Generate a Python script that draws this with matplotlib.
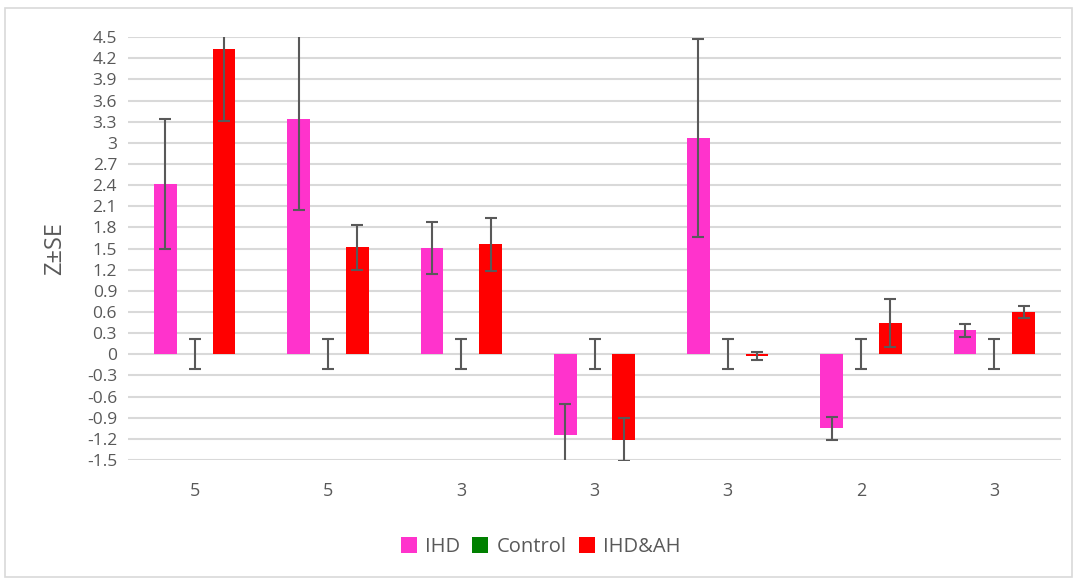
import numpy as np
import matplotlib
matplotlib.use("Agg")
from matplotlib import pyplot as plt
from matplotlib.patches import Rectangle

plt.rcParams['font.family'] = ['Open Sans', 'DejaVu Sans']

# group labels (n per group)
labels = ['5', '5', '3', '3', '3', '2', '3']

ihd = [2.42, 3.34, 1.51, -1.15, 3.07, -1.05, 0.34]
ihd_err = [0.92, 1.30, 0.37, 0.45, 1.40, 0.16, 0.095]

control = [0, 0, 0, 0, 0, 0, 0]
control_err = [0.21, 0.21, 0.21, 0.21, 0.21, 0.21, 0.21]

ihd_ah = [4.33, 1.52, 1.56, -1.21, -0.025, 0.44, 0.60]
ihd_ah_err = [1.02, 0.32, 0.38, 0.30, 0.055, 0.34, 0.08]

fig = plt.figure(figsize=(10.77, 5.8), dpi=100)
ax = fig.add_axes([0.119, 0.207, 0.866, 0.729])

# light border around the whole chart
fig.patches.append(Rectangle((0.005, 0.005), 0.99, 0.982, transform=fig.transFigure,
                             fill=False, edgecolor='#D9D9D9', lw=1.2))

x = np.arange(len(labels))
w = 0.17
off = 0.22
ekw = dict(ecolor='#595959', elinewidth=1.5, capsize=4, capthick=1.5)

ax.bar(x - off, ihd, w, yerr=ihd_err, color='#FF33CC', label='IHD', error_kw=ekw, zorder=3)
ax.bar(x, control, w, yerr=control_err, color='#008000', label='Control', error_kw=ekw, zorder=3)
ax.bar(x + off, ihd_ah, w, yerr=ihd_ah_err, color='#FF0000', label='IHD&AH', error_kw=ekw, zorder=3)

ax.set_xlim(-0.5, len(labels) - 0.5)
ax.set_ylim(-1.5, 4.5)
yt = np.round(np.arange(-1.5, 4.51, 0.3), 1)
ax.set_yticks(yt)
ax.set_yticklabels(['0' if v == 0 else ('3' if v == 3 else f'{v:g}') for v in yt])
ax.set_xticks(x)
ax.set_xticklabels(labels)

ax.grid(axis='y', color='#D9D9D9', lw=1.5, zorder=0)
ax.set_axisbelow(True)
for s in ax.spines.values():
    s.set_visible(False)
ax.tick_params(axis='y', length=0, labelsize=12.5, labelcolor='#595959', pad=8)
ax.tick_params(axis='x', length=0, labelsize=13, labelcolor='#595959', pad=16)

ax.set_ylabel('Z±SE', fontsize=17, color='#595959', labelpad=14)

fig.legend(loc='center', bbox_to_anchor=(0.502, 0.057), ncol=3, frameon=False,
           fontsize=14.5, labelcolor='#595959', handlelength=0.8, handleheight=0.8,
           handletextpad=0.4, columnspacing=0.6)

fig.savefig('out.png', dpi=100)
